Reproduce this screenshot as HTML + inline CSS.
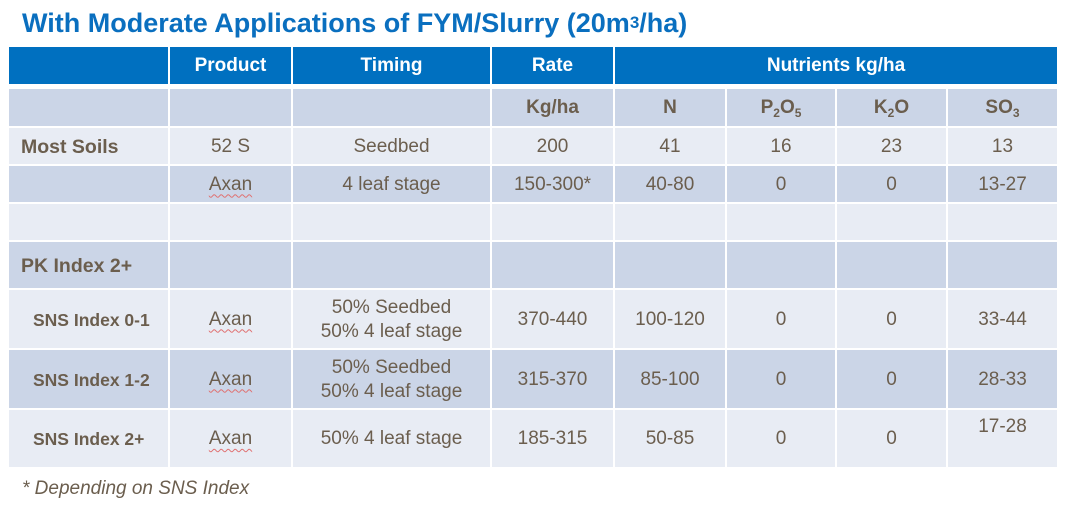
<!DOCTYPE html>
<html>
<head>
<meta charset="utf-8">
<style>
  html, body { margin:0; padding:0; background:#ffffff; }
  body { width:1071px; height:520px; position:relative; overflow:hidden;
         font-family:"Liberation Sans", Arial, sans-serif; color:#6b5e4e; }
  .title { position:absolute; left:22px; top:10px; font-size:27px; line-height:27px;
           font-weight:bold; color:#0a6fbf; white-space:nowrap; }
  .title sup { font-size:17px; vertical-align:top; position:relative; top:-1px; }
  .c { position:absolute; display:flex; align-items:center; justify-content:center;
       text-align:center; font-size:19px; line-height:24px; white-space:nowrap;
       padding-top:1px; box-sizing:border-box; }
  .h { background:#0070c0; color:#ffffff; font-weight:bold; }
  .d { background:#cbd5e7; }
  .l { background:#e8ecf4; }
  .b { font-weight:bold; }
  .left { justify-content:flex-start; }
  .sns { font-weight:bold; font-size:17.5px; padding-left:24px; }
  .lb { font-weight:bold; padding-left:12px; font-size:19.5px; }
  .ax { text-decoration:underline wavy #e07070; text-decoration-thickness:1px; text-underline-offset:4px; }
  sub { font-size:12px; position:relative; top:5px; vertical-align:baseline; line-height:0; }
  .top { align-items:flex-start; padding-top:6px; line-height:22px; }
  .foot { position:absolute; left:22px; top:478px; font-size:19px; line-height:22px; font-style:italic; color:#6b5e4e; }
</style>
</head>
<body>
<div class="title">With Moderate Applications of FYM/Slurry (20m<sup>3</sup>/ha)</div>

<!-- Header row -->
<div class="c h" style="left:9px;top:47px;width:159px;height:37px;"></div>
<div class="c h" style="left:170px;top:47px;width:121px;height:37px;">Product</div>
<div class="c h" style="left:293px;top:47px;width:197px;height:37px;">Timing</div>
<div class="c h" style="left:492px;top:47px;width:121px;height:37px;">Rate</div>
<div class="c h" style="left:615px;top:47px;width:442px;height:37px;">Nutrients kg/ha</div>

<!-- Sub header -->
<div class="c d" style="left:9px;top:89px;width:159px;height:37px;"></div>
<div class="c d" style="left:170px;top:89px;width:121px;height:37px;"></div>
<div class="c d" style="left:293px;top:89px;width:197px;height:37px;"></div>
<div class="c d b" style="left:492px;top:89px;width:121px;height:37px;">Kg/ha</div>
<div class="c d b" style="left:615px;top:89px;width:110px;height:37px;">N</div>
<div class="c d b" style="left:727px;top:89px;width:108px;height:37px;">P<sub>2</sub>O<sub>5</sub></div>
<div class="c d b" style="left:837px;top:89px;width:109px;height:37px;">K<sub>2</sub>O</div>
<div class="c d b" style="left:948px;top:89px;width:109px;height:37px;">SO<sub>3</sub></div>

<!-- Most Soils -->
<div class="c l left lb" style="left:9px;top:128px;width:159px;height:36px;">Most Soils</div>
<div class="c l" style="left:170px;top:128px;width:121px;height:36px;">52 S</div>
<div class="c l" style="left:293px;top:128px;width:197px;height:36px;">Seedbed</div>
<div class="c l" style="left:492px;top:128px;width:121px;height:36px;">200</div>
<div class="c l" style="left:615px;top:128px;width:110px;height:36px;">41</div>
<div class="c l" style="left:727px;top:128px;width:108px;height:36px;">16</div>
<div class="c l" style="left:837px;top:128px;width:109px;height:36px;">23</div>
<div class="c l" style="left:948px;top:128px;width:109px;height:36px;">13</div>

<!-- Axan row -->
<div class="c d" style="left:9px;top:166px;width:159px;height:36px;"></div>
<div class="c d" style="left:170px;top:166px;width:121px;height:36px;"><span class="ax">Axan</span></div>
<div class="c d" style="left:293px;top:166px;width:197px;height:36px;">4 leaf stage</div>
<div class="c d" style="left:492px;top:166px;width:121px;height:36px;">150-300*</div>
<div class="c d" style="left:615px;top:166px;width:110px;height:36px;">40-80</div>
<div class="c d" style="left:727px;top:166px;width:108px;height:36px;">0</div>
<div class="c d" style="left:837px;top:166px;width:109px;height:36px;">0</div>
<div class="c d" style="left:948px;top:166px;width:109px;height:36px;">13-27</div>

<!-- Empty row -->
<div class="c l" style="left:9px;top:204px;width:159px;height:36px;"></div>
<div class="c l" style="left:170px;top:204px;width:121px;height:36px;"></div>
<div class="c l" style="left:293px;top:204px;width:197px;height:36px;"></div>
<div class="c l" style="left:492px;top:204px;width:121px;height:36px;"></div>
<div class="c l" style="left:615px;top:204px;width:110px;height:36px;"></div>
<div class="c l" style="left:727px;top:204px;width:108px;height:36px;"></div>
<div class="c l" style="left:837px;top:204px;width:109px;height:36px;"></div>
<div class="c l" style="left:948px;top:204px;width:109px;height:36px;"></div>

<!-- PK Index -->
<div class="c d left lb" style="left:9px;top:242px;width:159px;height:46px;">PK Index 2+</div>
<div class="c d" style="left:170px;top:242px;width:121px;height:46px;"></div>
<div class="c d" style="left:293px;top:242px;width:197px;height:46px;"></div>
<div class="c d" style="left:492px;top:242px;width:121px;height:46px;"></div>
<div class="c d" style="left:615px;top:242px;width:110px;height:46px;"></div>
<div class="c d" style="left:727px;top:242px;width:108px;height:46px;"></div>
<div class="c d" style="left:837px;top:242px;width:109px;height:46px;"></div>
<div class="c d" style="left:948px;top:242px;width:109px;height:46px;"></div>

<!-- SNS 0-1 -->
<div class="c l left sns" style="left:9px;top:290px;width:159px;height:58px;">SNS Index 0-1</div>
<div class="c l" style="left:170px;top:290px;width:121px;height:58px;"><span class="ax">Axan</span></div>
<div class="c l" style="left:293px;top:290px;width:197px;height:58px;">50% Seedbed<br>50% 4 leaf stage</div>
<div class="c l" style="left:492px;top:290px;width:121px;height:58px;">370-440</div>
<div class="c l" style="left:615px;top:290px;width:110px;height:58px;">100-120</div>
<div class="c l" style="left:727px;top:290px;width:108px;height:58px;">0</div>
<div class="c l" style="left:837px;top:290px;width:109px;height:58px;">0</div>
<div class="c l" style="left:948px;top:290px;width:109px;height:58px;">33-44</div>

<!-- SNS 1-2 -->
<div class="c d left sns" style="left:9px;top:350px;width:159px;height:58px;">SNS Index 1-2</div>
<div class="c d" style="left:170px;top:350px;width:121px;height:58px;"><span class="ax">Axan</span></div>
<div class="c d" style="left:293px;top:350px;width:197px;height:58px;">50% Seedbed<br>50% 4 leaf stage</div>
<div class="c d" style="left:492px;top:350px;width:121px;height:58px;">315-370</div>
<div class="c d" style="left:615px;top:350px;width:110px;height:58px;">85-100</div>
<div class="c d" style="left:727px;top:350px;width:108px;height:58px;">0</div>
<div class="c d" style="left:837px;top:350px;width:109px;height:58px;">0</div>
<div class="c d" style="left:948px;top:350px;width:109px;height:58px;">28-33</div>

<!-- SNS 2+ -->
<div class="c l left sns" style="left:9px;top:410px;width:159px;height:57px;">SNS Index 2+</div>
<div class="c l" style="left:170px;top:410px;width:121px;height:57px;"><span class="ax">Axan</span></div>
<div class="c l" style="left:293px;top:410px;width:197px;height:57px;">50% 4 leaf stage</div>
<div class="c l" style="left:492px;top:410px;width:121px;height:57px;">185-315</div>
<div class="c l" style="left:615px;top:410px;width:110px;height:57px;">50-85</div>
<div class="c l" style="left:727px;top:410px;width:108px;height:57px;">0</div>
<div class="c l" style="left:837px;top:410px;width:109px;height:57px;">0</div>
<div class="c l top" style="left:948px;top:410px;width:109px;height:57px;">17-28</div>

<div class="foot">* Depending on SNS Index</div>
</body>
</html>
